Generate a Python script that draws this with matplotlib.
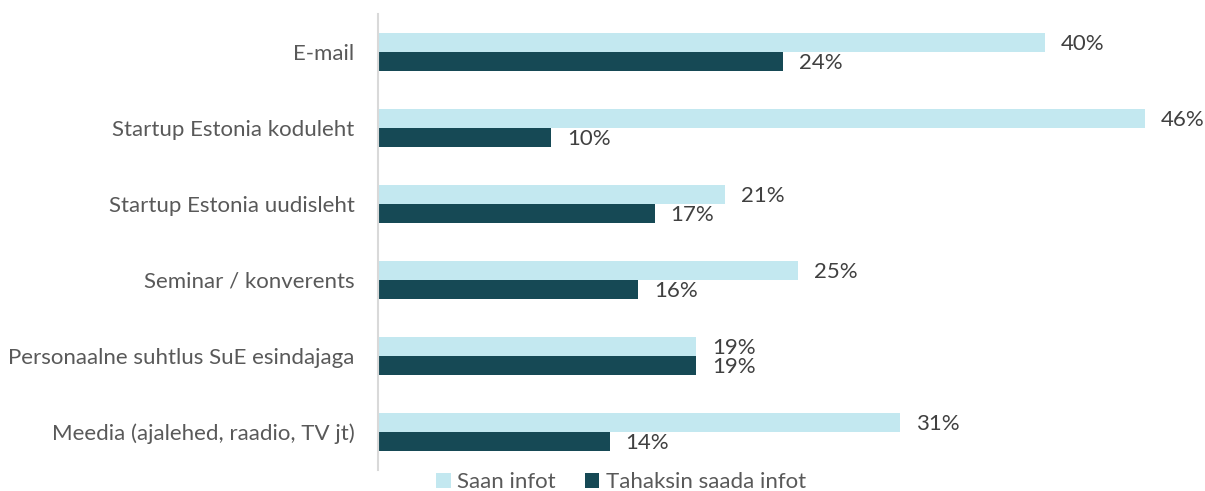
import matplotlib.pyplot as plt
import numpy as np

categories = [
    "E-mail",
    "Startup Estonia koduleht",
    "Startup Estonia uudisleht",
    "Seminar / konverents",
    "Personaalne suhtlus SuE esindajaga",
    "Meedia (ajalehed, raadio, TV jt)",
]
saan_infot = [40.0, 46.0, 20.8, 25.2, 19.1, 31.3]
tahaksin_saada = [24.3, 10.4, 16.6, 15.6, 19.1, 13.9]
series_names = ["Saan infot", "Tahaksin saada infot"]

LIGHT = "#C3E8F0"
DARK = "#164955"


def main() -> None:
    plt.rcParams["font.family"] = ["Lato", "DejaVu Sans"]

    fig = plt.figure(figsize=(12.05, 4.91), dpi=100)
    ax = fig.add_axes([378 / 1205, 1 - 470 / 491, (1145 - 378) / 1205, 456 / 491])

    y = np.arange(len(categories))
    h = 0.255
    b1 = ax.barh(y - h / 2, saan_infot, height=h, color=LIGHT, label=series_names[0])
    b2 = ax.barh(y + h / 2, tahaksin_saada, height=h, color=DARK, label=series_names[1])

    for bars in (b1, b2):
        for rect in bars:
            w = rect.get_width()
            ax.text(w + 0.95, rect.get_y() + rect.get_height() / 2 + 0.02, f"{w:.0f}%",
                    va="center", ha="left", fontsize=16, color="#404040", clip_on=False)

    ax.set_xlim(0, 46)
    ax.set_ylim(len(categories) - 0.5, -0.5)
    ax.set_yticks(y)
    ax.set_yticklabels(categories, fontsize=16, color="#595959")
    ax.tick_params(axis="y", length=0, pad=17)
    ax.set_xticks([])
    for side in ("top", "right", "bottom"):
        ax.spines[side].set_visible(False)
    ax.spines["left"].set_color("#D9D9D9")
    ax.spines["left"].set_linewidth(1.5)

    fig.legend(loc="center", bbox_to_anchor=(621 / 1205, 1 - 482 / 491), ncol=2,
               frameon=False, fontsize=16, handlelength=0.65, handleheight=0.65,
               handletextpad=0.3, columnspacing=1.3, labelcolor="#595959")

    fig.savefig("out.png", dpi=100)


if __name__ == "__main__":
    main()
